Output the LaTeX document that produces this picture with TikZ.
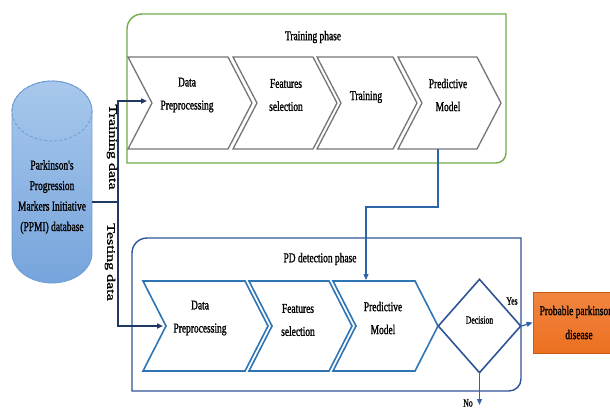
\documentclass[tikz,border=0pt]{standalone}
\usepackage{fontspec}
\setmainfont{Liberation Serif}
\newfontfamily\labfont[FakeStretch=0.7, FakeBold=1.2]{Liberation Serif}
\newfontfamily\sidefont[FakeBold=1.2]{Liberation Serif}
\usetikzlibrary{arrows.meta,shapes.geometric}

\definecolor{trgreen}{RGB}{112,173,71}
\definecolor{pdblue}{RGB}{47,85,151}
\definecolor{chevblue}{RGB}{46,117,182}
\definecolor{chevgray}{RGB}{118,118,118}
\definecolor{navyline}{RGB}{31,56,100}
\definecolor{linkblue}{RGB}{46,100,170}
\definecolor{outfill}{RGB}{237,112,32}
\definecolor{outedge}{RGB}{197,90,17}
\definecolor{dbtop}{RGB}{168,200,236}
\definecolor{dbbot}{RGB}{118,164,220}
\definecolor{dbedge}{RGB}{108,156,212}

\tikzset{
  lbl/.style={font=\labfont\fontsize{13.5}{23}\selectfont, align=center, inner sep=0pt},
  dblbl/.style={font=\labfont\fontsize{13.5}{20.5}\selectfont, align=center, inner sep=0pt},
  smalllbl/.style={font=\labfont\fontsize{11}{13}\selectfont, inner sep=0pt},
  sidelbl/.style={rotate=-90, inner sep=0pt},
  grayseg/.style={draw=chevgray, line width=1.3pt, fill=white, line join=miter},
  blueseg/.style={draw=chevblue, line width=1.6pt, fill=white, line join=miter},
  feed/.style={draw=navyline, line width=1.5pt, -{Triangle[length=6pt,width=5pt]}},
  link/.style={draw=linkblue, line width=1.2pt, -{Triangle[length=6pt,width=5pt]}},
}

\begin{document}
\begin{tikzpicture}[x=1pt, y=-1pt]
\useasboundingbox (0,0) rectangle (610,408);
\clip (0,0) rectangle (610,408);
\fill[white] (0,0) rectangle (610,408);

% ---- database cylinder ----
\shade[top color=dbtop, bottom color=dbbot, draw=dbedge, line width=0.8pt]
  (12,111) -- (12,253) arc[start angle=180, end angle=0, x radius=40, y radius=30]
  -- (92,111) arc[start angle=0, end angle=-180, x radius=40, y radius=30] -- cycle;
\draw[dbedge, line width=0.8pt, densely dashed] (52,111) ellipse[x radius=40, y radius=30];
\node[dblbl] (db) at (52,197) {Parkinson's\\Progression\\Markers Initiative\\(PPMI) database};
\coordinate (dbR) at (92,202);

% ---- training phase ----
\draw[trgreen, line width=1.4pt]
  (127,163) -- (127,29) arc[start angle=180, end angle=270, radius=15]
  -- (506,14) -- (506,153) arc[start angle=0, end angle=90, radius=10] -- cycle;
\node[lbl] (trtitle) at (313,37) {Training phase};

\path[grayseg] (128,57) -- (228,57) -- (252,103) -- (228,149) -- (128,149) -- (152,103) -- cycle;
\path[grayseg] (233,57) -- (313,57) -- (337,103) -- (313,149) -- (233,149) -- (257,103) -- cycle;
\path[grayseg] (317,57) -- (393,57) -- (417,103) -- (393,149) -- (317,149) -- (341,103) -- cycle;
\path[grayseg] (398,57) -- (477,57) -- (501,103) -- (477,149) -- (398,149) -- (422,103) -- cycle;
\node[lbl] (tr1) at (187,95) {Data\\Preprocessing};
\node[lbl] (tr2) at (286,95) {Features\\selection};
\node[lbl] (tr3) at (366,97) {Training};
\node[lbl] (tr4) at (448,95) {Predictive\\Model};
\coordinate (tr4b) at (438,149);

% ---- PD detection phase ----
\draw[pdblue, line width=1.4pt]
  (132,391) -- (132,253) arc[start angle=180, end angle=270, radius=15]
  -- (521,238) -- (521,379) arc[start angle=0, end angle=90, radius=12] -- cycle;
\node[lbl] (pdtitle) at (320,259) {PD detection phase};

\path[blueseg] (143,281) -- (245,281) -- (268,326) -- (245,371) -- (143,371) -- (166,326) -- cycle;
\path[blueseg] (249,281) -- (329,281) -- (352,326) -- (329,371) -- (249,371) -- (272,326) -- cycle;
\path[blueseg] (333,281) -- (415,281) -- (438,326) -- (415,371) -- (333,371) -- (356,326) -- cycle;
\node[lbl] (pd1) at (200,318) {Data\\Preprocessing};
\node[lbl] (pd2) at (298,320) {Features\\selection};
\node[lbl] (pd3) at (383,318) {Predictive\\Model};
\coordinate (pd3t) at (366,280);

\node[diamond, draw=pdblue, line width=1.6pt, fill=white, aspect=0.88,
      minimum width=83pt, minimum height=94pt, inner sep=0pt] (dec) at (479.5,326) {};
\node[smalllbl] (declbl) at (479.5,320) {Decision};

\node[draw=outedge, line width=1pt, top color=outfill!85!white, bottom color=outfill,
      minimum width=92pt, minimum height=61pt, inner sep=0pt, align=center,
      font=\labfont\fontsize{13.5}{24}\selectfont] (out) at (579,322.5)
      {Probable parkinson's\\disease};

% ---- connectors ----
\coordinate (split) at (118,202);
\coordinate (trin) at (147,101);
\coordinate (tein) at (163,326);
\draw[navyline, line width=1.5pt] (dbR) -- (split);
\draw[feed] (split) |- (trin);
\draw[feed] (split) |- (tein);
\node[sidelbl] (trdata) at (112,147)
  {\scalebox{1}[0.72]{\sidefont\fontsize{16}{16}\selectfont Training data}};
\node[sidelbl] (tedata) at (110,262)
  {\scalebox{1}[0.72]{\sidefont\fontsize{16}{16}\selectfont Testing data}};

\draw[link] (tr4b) -- ++(0,58) -| (pd3t);
\draw[link] (dec.east) -- (out.west);
\node[smalllbl] (yes) at (512,301) {Yes};
\coordinate (noend) at (479.5,405);
\draw[link] (dec.south) -- (noend);
\node[smalllbl] (no) at (468,403) {No};
\end{tikzpicture}
\end{document}
